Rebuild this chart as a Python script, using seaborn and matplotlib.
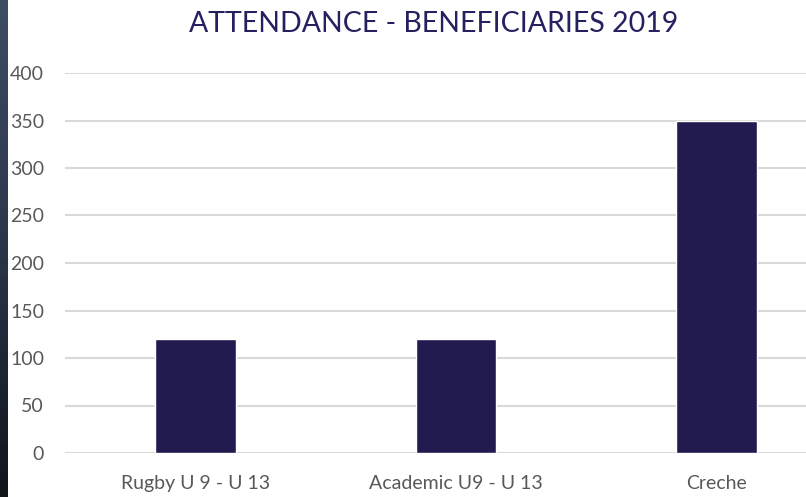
import seaborn as sns
import matplotlib.pyplot as plt
import numpy as np
import pandas as pd

# dados
categories = ["Rugby U 9 - U 13", "Academic U9 - U 13", "Creche"]
attendance = [120, 120, 350]
y_ticks = [0, 50, 100, 150, 200, 250, 300, 350, 400]

df = pd.DataFrame({"category": categories, "attendance": attendance})

sns.set_theme(style="white")
plt.rcParams['font.family'] = ['Lato', 'DejaVu Sans']

W, H = 806, 497
fig = plt.figure(figsize=(W / 100, H / 100), dpi=100)
fig.patch.set_facecolor("white")

# faixa escura à esquerda (fundo da foto)
strip = fig.add_axes([0, 0, 7.5 / W, 1])
grad = np.linspace(0, 1, 100).reshape(-1, 1)
strip.imshow(grad, aspect="auto", cmap=sns.blend_palette(["#3d4d63", "#2a3549", "#10151c"], as_cmap=True))
strip.axis("off")

ax = fig.add_axes([65 / W, 44 / H, 782 / W, 380 / H])
navy = "#221b4f"
sns.barplot(data=df, x="category", y="attendance", color=navy, width=0.31,
            saturation=1, ax=ax)

ax.set_ylim(0, 400)
ax.set_xlim(-0.5, 2.5)
ax.set_yticks(y_ticks)
ax.yaxis.grid(True, color="#d9d9d9", linewidth=1.5)
ax.set_axisbelow(True)
for s in ax.spines.values():
    s.set_visible(False)
ax.set_xlabel("")
ax.set_ylabel("")
ax.tick_params(axis="y", length=0, pad=15, labelsize=14, labelcolor="#595959")
ax.tick_params(axis="x", length=0, pad=16, labelsize=14, labelcolor="#595959")

fig.text(434 / W, 1 - 24 / H, "ATTENDANCE - BENEFICIARIES 2019", ha="center", va="center",
         fontsize=20.5, color="#252060")

fig.savefig("out.png", dpi=100)
